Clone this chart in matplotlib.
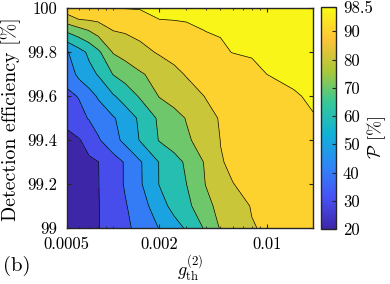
import numpy as np
import matplotlib
matplotlib.use('Agg')
import matplotlib.pyplot as plt
from matplotlib.colors import LinearSegmentedColormap, Normalize
from matplotlib.cm import ScalarMappable
from matplotlib.ticker import LogLocator, NullFormatter

plt.rcParams['font.family'] = 'serif'
plt.rcParams['font.serif'] = ['cmr10', 'DejaVu Serif']
plt.rcParams['mathtext.fontset'] = 'cm'
plt.rcParams['axes.formatter.use_mathtext'] = True

# g_th^(2) grid (x) and detection efficiency grid (y, %)
g_th = [0.0005, 0.0006, 0.0007, 0.0008, 0.001, 0.0012, 0.0015, 0.002, 0.0025,
        0.003, 0.004, 0.005, 0.006, 0.008, 0.01, 0.015, 0.02]
efficiency = [99.0, 99.1, 99.2, 99.3, 99.4, 99.5, 99.6, 99.7, 99.8, 99.9, 99.95, 100.0]

# P [%] values, one row per efficiency
P = [
    [20.0, 23.7, 26.8, 29.6, 34.2, 38.0, 43.2, 50.4, 56.2, 61.2, 71.6, 80.9, 84.3, 89.5, 91.1, 93.4, 95.0],
    [21.5, 24.7, 27.3, 29.6, 34.8, 39.2, 45.6, 56.2, 63.2, 67.5, 77.3, 83.0, 86.4, 90.5, 91.7, 93.9, 95.4],
    [23.0, 25.6, 27.8, 29.7, 35.6, 40.9, 48.9, 60.3, 65.6, 69.9, 80.2, 85.5, 89.9, 91.3, 92.4, 94.3, 95.7],
    [25.0, 26.9, 28.5, 29.8, 35.7, 40.9, 49.1, 60.4, 66.4, 71.6, 81.2, 89.7, 90.8, 92.0, 93.0, 94.7, 96.0],
    [27.2, 29.3, 33.7, 38.9, 46.5, 52.7, 60.6, 70.6, 74.9, 78.4, 85.2, 90.1, 90.9, 92.2, 93.2, 95.0, 96.3],
    [32.8, 37.1, 40.7, 43.8, 49.0, 54.4, 61.9, 71.9, 76.6, 80.5, 87.6, 90.6, 91.4, 92.7, 93.7, 95.5, 96.8],
    [38.0, 40.5, 46.2, 51.1, 58.9, 64.4, 71.1, 80.5, 83.9, 86.7, 90.3, 91.4, 92.3, 93.7, 94.7, 96.7, 97.5],
    [43.5, 52.7, 56.9, 60.7, 70.3, 74.1, 78.8, 84.2, 88.3, 90.5, 92.1, 93.3, 94.3, 95.9, 97.0, 97.7, 98.2],
    [49.0, 56.1, 62.1, 68.0, 80.6, 83.8, 87.7, 90.9, 92.3, 93.3, 95.1, 96.4, 97.1, 97.4, 97.6, 98.1, 98.4],
    [72.0, 76.6, 80.5, 84.4, 90.2, 91.1, 92.3, 93.9, 95.1, 96.1, 97.1, 97.3, 97.5, 97.7, 97.9, 98.2, 98.5],
    [85.5, 90.1, 91.0, 91.8, 93.2, 94.3, 95.6, 97.0, 97.2, 97.3, 97.5, 97.6, 97.7, 97.9, 98.1, 98.3, 98.5],
    [95.0, 95.5, 96.0, 96.4, 97.0, 97.1, 97.2, 97.3, 97.5, 97.6, 97.7, 97.8, 97.9, 98.0, 98.2, 98.4, 98.5],
]

contour_levels = [20, 30, 40, 50, 60, 70, 80, 90, 97, 99]
x_ticks = [0.0005, 0.002, 0.01]
x_ticklabels = ['0.0005', '0.002', '0.01']
y_ticks = [99, 99.2, 99.4, 99.6, 99.8, 100]
y_ticklabels = ['99', '99.2', '99.4', '99.6', '99.8', '100']
cb_ticks = [20, 30, 40, 50, 60, 70, 80, 90, 98.5]
cb_ticklabels = ['20', '30', '40', '50', '60', '70', '80', '90', '98.5']

# parula-like colormap
anchors = [(0, (0.2422, 0.1504, 0.6603)), (1/7, (0.2810, 0.3228, 0.9579)),
           (2/7, (0.1786, 0.5289, 0.9682)), (3/7, (0.0689, 0.6948, 0.8394)),
           (4/7, (0.2161, 0.7843, 0.5923)), (5/7, (0.6720, 0.7793, 0.2227)),
           (6/7, (0.9970, 0.7659, 0.2199)), (1.0, (0.9769, 0.9839, 0.0805))]
cmap = LinearSegmentedColormap.from_list('parula', anchors, N=256)
norm = Normalize(20, 98.5)
band_colors = [cmap(norm(v)) for v in contour_levels[:-1]]

W, H = 390, 284
fig = plt.figure(figsize=(W/100, H/100), dpi=100)
ax = fig.add_axes([66.7/W, 1-228/H, (313-66.7)/W, (228-8.3)/H])
cax = fig.add_axes([320.7/W, 1-229/H, (336-320.7)/W, (229-7.3)/H])

Z = np.array(P)
ax.contourf(g_th, efficiency, Z, levels=contour_levels, colors=band_colors)
ax.contour(g_th, efficiency, Z, levels=contour_levels[1:-1], colors='k', linewidths=0.5)
ax.set_xscale('log')
ax.set_xlim(0.0005, 0.02)
ax.set_ylim(99, 100)
ax.set_xticks(x_ticks)
ax.set_xticklabels(x_ticklabels)
ax.xaxis.set_minor_locator(LogLocator(base=10, subs=np.arange(1, 10)))
ax.xaxis.set_minor_formatter(NullFormatter())
ax.set_yticks(y_ticks)
ax.set_yticklabels(y_ticklabels)
edge = '#262626'
ax.tick_params(which='both', direction='in', top=True, right=True, color=edge, labelsize=12)
ax.tick_params(which='major', length=3, width=0.8)
ax.tick_params(which='minor', length=1.6, width=0.6)
ax.tick_params(axis='y', pad=7)
ax.tick_params(axis='x', pad=6)
for s in ax.spines.values():
    s.set_linewidth(1.0)
    s.set_color(edge)

cb = fig.colorbar(ScalarMappable(norm=norm, cmap=cmap), cax=cax)
cb.set_ticks(cb_ticks)
cb.set_ticklabels(cb_ticklabels)
cax.tick_params(direction='in', length=3, width=0.8, color=edge, labelsize=12, pad=5)
cb.outline.set_linewidth(1.0)
cb.outline.set_edgecolor(edge)

fig.text(11/W, 1-119/H, 'Detection efficiency [%]', rotation=90, ha='center', va='center', fontsize=14.3)
fig.text(190/W, 1-268/H, r'$g_{\mathrm{th}}^{(2)}$', ha='center', va='center', fontsize=13)
fig.text(377/W, 1-137/H, r'$\mathcal{P}$ [%]', rotation=90, ha='center', va='center', fontsize=13)
fig.text(3/W, 1-266/H, '(b)', ha='left', va='center', fontsize=15)

fig.savefig('out.png', dpi=100)
